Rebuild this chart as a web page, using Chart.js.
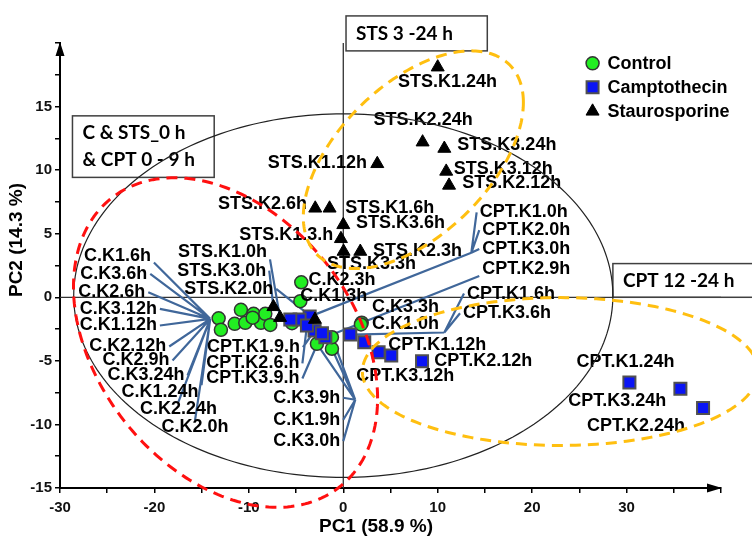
<!DOCTYPE html>
<html>
<head>
<meta charset="utf-8">
<script src="https://cdn.jsdelivr.net/npm/chart.js@4.4.1/dist/chart.umd.min.js"></script>
<style>
  html, body { margin: 0; padding: 0; background: #fff; }
</style>
</head>
<body>
<canvas id="pca" width="752" height="541"></canvas>
<script>
// Scores (PC1, PC2)
const controlNames = ['C.K1.6h', 'C.K3.6h', 'C.K2.6h', 'C.K3.12h', 'C.K1.12h', 'C.K2.12h', 'C.K2.9h', 'C.K3.24h',
                      'C.K1.24h', 'C.K2.24h', 'C.K2.0h', 'C.K2.3h', 'C.K1.3h', 'C.K3.3h', 'C.K1.0h', 'C.K3.9h', 'C.K1.9h', 'C.K3.0h'];
const controlPC1 = [-13.2, -12.96, -11.5, -10.84, -10.38, -9.5, -8.72, -8.26, -7.73, -5.43, -9.6, -4.45, -4.55, 1.95, 1.87, -1.2, -2.79, -1.2];
const controlPC2 = [-1.65, -2.56, -2.09, -0.99, -2.01, -1.3, -2.01, -1.3, -2.17, -2.04, -1.6, 1.18, -0.31, -2.0, -2.14, -4.05, -3.66, -3.14];

const cptNames = ['CPT.K1.0h', 'CPT.K2.0h', 'CPT.K3.0h', 'CPT.K2.9h', 'CPT.K1.9.h', 'CPT.K2.6.h', 'CPT.K3.9.h', 'CPT.K1.6h',
                  'CPT.K3.6h', 'CPT.K3.12h', 'CPT.K1.12h', 'CPT.K2.12h', 'CPT.K1.24h', 'CPT.K3.24h', 'CPT.K2.24h'];
const cptPC1 = [-3.56, -4.63, -5.61, -1.9, -3.04, -3.85, -2.26, 0.74, 2.22, 3.74, 5.08, 8.34, 30.3, 35.7, 38.1];
const cptPC2 = [-1.52, -1.75, -1.75, -3.14, -2.62, -2.22, -2.83, -2.93, -3.53, -4.32, -4.58, -5.03, -6.7, -7.2, -8.7];

const stsNames = ['STS.K1.24h', 'STS.K2.24h', 'STS.K3.24h', 'STS.K1.12h', 'STS.K3.12h', 'STS.K2.12h', 'STS.K2.6h', 'STS.K1.6h',
                  'STS.K3.6h', 'STS.K1.3.h', 'STS.K3.3h', 'STS.K2.3h', 'STS.K1.0h', 'STS.K3.0h', 'STS.K2.0h'];
const stsPC1 = [10.0, 8.4, 10.7, 3.6, 10.9, 11.2, -2.97, -1.45, 0.0, -0.25, 0.03, 1.8, -6.7, -7.4, -3.0];
const stsPC2 = [18.1, 12.2, 11.7, 10.5, 9.9, 8.8, 7.0, 7.0, 5.7, 4.6, 3.6, 3.6, -1.6, -0.75, -1.75];

// axes
const xTickValues = [-30, -25, -20, -15, -10, -5, 0, 5, 10, 15, 20, 25, 30, 35, 40];
const xTickLabels = ['-30', '', '-20', '', '-10', '', '0', '', '10', '', '20', '', '30', '', ''];
const yTickValues = [-15, -12.5, -10, -7.5, -5, -2.5, 0, 2.5, 5, 7.5, 10, 12.5, 15, 17.5, 20];
const yTickLabels = ['-15', '', '-10', '', '-5', '', '0', '', '5', '', '10', '', '15', '', ''];
const xTitle = 'PC1 (58.9 %)';
const yTitle = 'PC2 (14.3 %)';

// group ellipses: centre and spread (sxx, syy, sxy) in score units
const hotellingCenter = [0, 0.13], hotellingSpread = [815, 204.5, 0];
const earlyCenter = [-12.47, -3.56], earlySpread = [259.3, 168.0, -70.7];
const stsLateCenter = [7.42, 10.82], stsLateSpread = [135.8, 73.3, 52.4];
const cptLateCenter = [22.99, -5.84], cptLateSpread = [439.7, 33.8, 0];

// where each sample name is written: [PC1, PC2, anchor side]
const labelSpots = {
  'C.K1.6h': [-20.37, 3.28, 'right'], 'C.K3.6h': [-20.76, 1.84, 'right'], 'C.K2.6h': [-20.97, 0.39, 'right'],
  'C.K3.12h': [-19.74, -0.91, 'right'], 'C.K1.12h': [-19.74, -2.22, 'right'], 'C.K2.12h': [-18.75, -3.87, 'right'],
  'C.K2.9h': [-18.4, -4.97, 'right'], 'C.K3.24h': [-16.81, -6.15, 'right'], 'C.K1.24h': [-15.33, -7.46, 'right'],
  'C.K2.24h': [-13.38, -8.77, 'right'], 'C.K2.0h': [-12.15, -10.21, 'right'],
  'C.K2.3h': [-3.68, 1.37, 'left'], 'C.K1.3h': [-4.56, 0.13, 'left'], 'C.K3.3h': [3.04, -0.79, 'left'],
  'C.K1.0h': [3.04, -2.09, 'left'], 'C.K3.9h': [-0.32, -7.9, 'right'], 'C.K1.9h': [-0.32, -9.63, 'right'],
  'C.K3.0h': [-0.32, -11.31, 'right'],
  'STS.K1.24h': [5.8, 16.9, 'left'], 'STS.K2.24h': [13.7, 13.94, 'right'], 'STS.K3.24h': [12.08, 12.0, 'left'],
  'STS.K3.12h': [11.69, 10.09, 'left'], 'STS.K2.12h': [12.6, 8.96, 'left'], 'STS.K1.12h': [2.5, 10.56, 'right'],
  'STS.K2.6h': [-3.85, 7.34, 'right'], 'STS.K1.6h': [0.21, 7.02, 'left'], 'STS.K3.6h': [1.35, 5.81, 'left'],
  'STS.K1.3.h': [-1.06, 4.93, 'right'], 'STS.K2.3h': [3.15, 3.67, 'left'], 'STS.K3.3h': [-1.73, 2.62, 'left'],
  'STS.K1.0h': [-8.08, 3.53, 'right'], 'STS.K3.0h': [-8.16, 2.1, 'right'], 'STS.K2.0h': [-7.42, 0.66, 'right'],
  'CPT.K1.0h': [14.44, 6.68, 'left'], 'CPT.K2.0h': [14.72, 5.29, 'left'], 'CPT.K3.0h': [14.72, 3.8, 'left'],
  'CPT.K2.9h': [14.72, 2.22, 'left'], 'CPT.K1.6h': [13.1, 0.29, 'left'], 'CPT.K3.6h': [12.68, -1.26, 'left'],
  'CPT.K1.12h': [4.77, -3.72, 'left'], 'CPT.K2.12h': [9.64, -5.03, 'left'], 'CPT.K3.12h': [11.76, -6.23, 'right'],
  'CPT.K1.24h': [24.7, -5.1, 'left'], 'CPT.K3.24h': [23.83, -8.19, 'left'], 'CPT.K2.24h': [25.8, -10.16, 'left'],
  'CPT.K1.9.h': [-14.44, -3.93, 'left'], 'CPT.K2.6.h': [-14.5, -5.2, 'left'], 'CPT.K3.9.h': [-14.5, -6.39, 'left']
};

// leader lines: labels joined at a hub, hub joined to samples
const leaderHubs = [
  { at: [-14.09, -1.7], labels: controlNames.slice(0, 11), targets: [] },
  { at: [13.56, 3.5], labels: ['CPT.K1.0h', 'CPT.K2.0h', 'CPT.K3.0h'], targets: ['CPT.K1.0h'] },
  { at: [10.7, -2.77], labels: ['CPT.K1.6h', 'CPT.K3.6h'], targets: ['CPT.K1.6h'] },
  { at: [1.27, -8.06], labels: ['C.K3.9h', 'C.K1.9h', 'C.K3.0h'], targets: ['C.K3.9h', 'C.K1.9h', 'C.K3.0h'] }
];
const directLeaders = ['STS.K1.0h', 'STS.K3.0h', 'STS.K2.0h', 'CPT.K1.9.h', 'CPT.K2.6.h', 'CPT.K3.9.h', 'CPT.K2.9h'];

// boxed group notes: text lines and box corners in score units
const noteBoxes = [
  { lines: ['C & STS_0 h', '& CPT 0 - 9 h'], from: [-28.68, 14.27], to: [-13.67, 9.43] },
  { lines: ['STS 3 -24 h'], from: [0.29, 22.13], to: [15.25, 19.38] },
  { lines: ['CPT 12 -24 h'], from: [28.55, 2.65], to: [44.5, 0] }
];

const arial = "'Liberation Sans', Arial, sans-serif";
const labelFont = 'bold 18px ' + arial;
const green = '#22ee22', blue = '#0a14f5';

function toPoints(xs, ys) {
  return xs.map((v, i) => ({ x: v, y: ys[i] }));
}

const sampleAt = {};
[[controlNames, controlPC1, controlPC2], [cptNames, cptPC1, cptPC2], [stsNames, stsPC1, stsPC2]].forEach(g => {
  g[0].forEach((n, i) => { sampleAt[n] = [g[1][i], g[2][i]]; });
});

function drawMarker(ctx, style, px, py) {
  ctx.beginPath();
  if (style === 'circle') {
    ctx.arc(px, py, 6.5, 0, Math.PI * 2);
    ctx.fillStyle = green; ctx.strokeStyle = '#333'; ctx.lineWidth = 1.5;
  } else if (style === 'rect') {
    ctx.rect(px - 6, py - 6, 12, 12);
    ctx.fillStyle = blue; ctx.strokeStyle = '#505050'; ctx.lineWidth = 2;
  } else {
    ctx.moveTo(px, py - 7.5);
    ctx.lineTo(px + 6.5, py + 3.75);
    ctx.lineTo(px - 6.5, py + 3.75);
    ctx.closePath();
    ctx.fillStyle = '#000'; ctx.strokeStyle = '#000'; ctx.lineWidth = 1;
  }
  ctx.fill();
  ctx.stroke();
}

function strokeEllipse(ctx, x, y, center, spread, color, width, dash) {
  const l11 = Math.sqrt(spread[0]);
  const l21 = spread[2] / l11;
  const l22 = Math.sqrt(spread[1] - l21 * l21);
  ctx.save();
  ctx.strokeStyle = color;
  ctx.lineWidth = width;
  ctx.setLineDash(dash);
  ctx.beginPath();
  for (let k = 0; k <= 240; k++) {
    const t = k / 240 * Math.PI * 2;
    const px = x.getPixelForValue(center[0] + l11 * Math.cos(t));
    const py = y.getPixelForValue(center[1] + l21 * Math.cos(t) + l22 * Math.sin(t));
    if (k === 0) ctx.moveTo(px, py); else ctx.lineTo(px, py);
  }
  ctx.closePath();
  ctx.stroke();
  ctx.restore();
}

function labelBox(ctx, x, y, name) {
  const s = labelSpots[name];
  const px = x.getPixelForValue(s[0]);
  const py = y.getPixelForValue(s[1]);
  const w = ctx.measureText(name).width;
  const left = s[2] === 'left' ? px : px - w;
  return { left: left, right: left + w, mid: py };
}

function leaderStart(box, tx, ty) {
  let sx = (box.left + box.right) / 2;
  if (tx > box.right) sx = box.right + 3;
  else if (tx < box.left) sx = box.left - 3;
  let sy = box.mid;
  if (ty < box.mid - 60) sy = box.mid - 7;
  else if (ty > box.mid + 60) sy = box.mid + 7;
  return [sx, sy];
}

const decorations = {
  id: 'decorations',
  beforeDatasetsDraw(chart) {
    const { ctx, chartArea: a, scales: { x, y } } = chart;
    ctx.save();
    // zero lines
    ctx.strokeStyle = '#333';
    ctx.lineWidth = 1.3;
    ctx.beginPath();
    ctx.moveTo(x.getPixelForValue(0), a.top);
    ctx.lineTo(x.getPixelForValue(0), a.bottom);
    ctx.moveTo(a.left, y.getPixelForValue(0));
    ctx.lineTo(a.right, y.getPixelForValue(0));
    ctx.stroke();

    // leader lines
    ctx.font = labelFont;
    ctx.strokeStyle = '#40679a';
    ctx.lineWidth = 2.2;
    ctx.beginPath();
    leaderHubs.forEach(h => {
      const hx = x.getPixelForValue(h.at[0]), hy = y.getPixelForValue(h.at[1]);
      h.labels.forEach(n => {
        const s = leaderStart(labelBox(ctx, x, y, n), hx, hy);
        ctx.moveTo(s[0], s[1]);
        ctx.lineTo(hx, hy);
      });
      h.targets.forEach(n => {
        ctx.moveTo(hx, hy);
        ctx.lineTo(x.getPixelForValue(sampleAt[n][0]), y.getPixelForValue(sampleAt[n][1]));
      });
    });
    directLeaders.forEach(n => {
      const tx = x.getPixelForValue(sampleAt[n][0]), ty = y.getPixelForValue(sampleAt[n][1]);
      const s = leaderStart(labelBox(ctx, x, y, n), tx, ty);
      ctx.moveTo(s[0], s[1]);
      ctx.lineTo(tx, ty);
    });
    ctx.stroke();
    ctx.restore();
  },
  afterDatasetsDraw(chart) {
    const { ctx, chartArea: a, scales: { x, y } } = chart;
    ctx.save();

    // sample names
    ctx.font = labelFont;
    ctx.fillStyle = '#000';
    ctx.textBaseline = 'middle';
    Object.keys(labelSpots).forEach(n => {
      const s = labelSpots[n];
      ctx.textAlign = s[2];
      ctx.fillText(n, x.getPixelForValue(s[0]), y.getPixelForValue(s[1]));
    });

    // note boxes
    ctx.textAlign = 'left';
    ctx.font = 'bold 19px Lato, ' + arial;
    noteBoxes.forEach(b => {
      const x0 = x.getPixelForValue(b.from[0]), y0 = y.getPixelForValue(b.from[1]);
      const x1 = x.getPixelForValue(b.to[0]), y1 = y.getPixelForValue(b.to[1]);
      ctx.strokeStyle = '#404040';
      ctx.lineWidth = 1.5;
      ctx.strokeRect(x0, y0, x1 - x0, y1 - y0);
      const mid = (y0 + y1) / 2;
      b.lines.forEach((t, i) => {
        ctx.fillText(t, x0 + 10, mid + (i - (b.lines.length - 1) / 2) * 27);
      });
    });

    // legend
    const legendX = x.getPixelForValue(26.4);
    ctx.font = 'bold 18px ' + arial;
    chart.data.datasets.forEach((ds, i) => {
      const ly = y.getPixelForValue(18.4) + i * 24;
      drawMarker(ctx, ds.pointStyle, legendX, ly);
      ctx.fillStyle = '#000';
      ctx.fillText(ds.label, legendX + 15, ly + 1);
    });

    // ellipses
    strokeEllipse(ctx, x, y, hotellingCenter, hotellingSpread, '#222', 1.2, []);
    strokeEllipse(ctx, x, y, earlyCenter, earlySpread, '#ff1010', 3, [11, 7]);
    strokeEllipse(ctx, x, y, stsLateCenter, stsLateSpread, '#ffbf10', 3, [11, 7]);
    strokeEllipse(ctx, x, y, cptLateCenter, cptLateSpread, '#ffbf10', 3, [11, 7]);

    // axis arrows
    ctx.fillStyle = '#000';
    ctx.beginPath();
    ctx.moveTo(a.left, a.top - 1);
    ctx.lineTo(a.left + 4.5, a.top + 13);
    ctx.lineTo(a.left - 4.5, a.top + 13);
    ctx.closePath();
    ctx.moveTo(a.right + 1, a.bottom);
    ctx.lineTo(a.right - 14, a.bottom - 4.5);
    ctx.lineTo(a.right - 14, a.bottom + 4.5);
    ctx.closePath();
    ctx.fill();

    // axis titles
    ctx.font = 'bold 19px ' + arial;
    ctx.textAlign = 'center';
    ctx.fillText(xTitle, chart.width / 2, chart.height - 14);
    ctx.translate(17, 240);
    ctx.rotate(-Math.PI / 2);
    ctx.fillText(yTitle, 0, 0);
    ctx.restore();
  }
};

const tickFont = { family: arial, size: 15, weight: 'bold' };

new Chart(document.getElementById('pca'), {
  type: 'scatter',
  data: {
    datasets: [
      { label: 'Control', data: toPoints(controlPC1, controlPC2), order: 3, pointStyle: 'circle',
        radius: 6.5, backgroundColor: green, borderColor: '#333', borderWidth: 1.5 },
      { label: 'Camptothecin', data: toPoints(cptPC1, cptPC2), order: 2, pointStyle: 'rect',
        radius: 8.5, backgroundColor: blue, borderColor: '#505050', borderWidth: 2 },
      { label: 'Staurosporine', data: toPoints(stsPC1, stsPC2), order: 1, pointStyle: 'triangle',
        radius: 7.5, backgroundColor: '#000', borderColor: '#000', borderWidth: 1 }
    ]
  },
  options: {
    responsive: false,
    animation: false,
    devicePixelRatio: 1,
    clip: false,
    layout: { padding: { top: 43, right: 31, left: 0, bottom: 0 } },
    plugins: { legend: { display: false }, tooltip: { enabled: false } },
    scales: {
      x: {
        type: 'linear', min: -30, max: 40,
        afterFit: s => { s.height = 53; },
        afterBuildTicks: s => { s.ticks = xTickValues.map(v => ({ value: v })); },
        ticks: { autoSkip: false, maxRotation: 0, padding: 6, color: '#111', font: tickFont,
                 callback: (v, i) => xTickLabels[i] },
        grid: { drawOnChartArea: false, drawTicks: true, tickLength: 5, color: '#000', lineWidth: 1.5 },
        border: { display: true, color: '#000', width: 2 }
      },
      y: {
        type: 'linear', min: -15, max: 20,
        afterFit: s => { s.width = 60; },
        afterBuildTicks: s => { s.ticks = yTickValues.map(v => ({ value: v })); },
        ticks: { autoSkip: false, padding: 3, color: '#111', font: tickFont,
                 callback: (v, i) => yTickLabels[i] },
        grid: { drawOnChartArea: false, drawTicks: true, tickLength: 5, color: '#000', lineWidth: 1.5 },
        border: { display: true, color: '#000', width: 2 }
      }
    }
  },
  plugins: [decorations]
});
</script>
</body>
</html>
